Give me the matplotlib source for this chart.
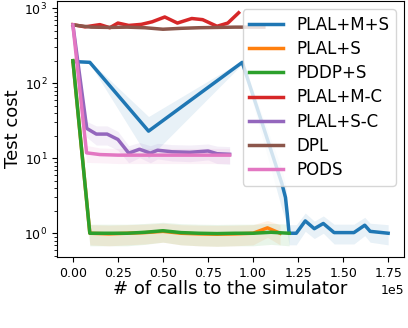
import numpy as np
import matplotlib
matplotlib.use("Agg")
import matplotlib.pyplot as plt

# x in number of simulator calls, y = test cost (mean, std)
x_mps = [0, 9400, 42000, 94000, 116000, 118000, 119000, 120000, 124000, 129000,
         134000, 139000, 145000, 156000, 162000, 165000, 175000]
y_mps = [195, 190, 23, 190, 4.6, 3.0, 1.8, 1.0, 1.0, 1.46,
         1.15, 1.35, 1.02, 1.02, 1.28, 1.06, 1.0]
s_mps = [5, 8, 13, 10, 2.5, 1.5, 0.8, 0.3, 0.3, 0.4,
         0.3, 0.35, 0.3, 0.3, 0.35, 0.3, 0.3]

x_ps = [0, 9400, 20000, 30000, 40000, 50000, 60000, 70000, 80000, 90000,
        100000, 108000, 115000]
y_ps = [200, 1.0, 0.98, 1.0, 1.02, 1.06, 1.0, 0.98, 0.97, 0.98, 1.0, 1.18, 1.0]
s_ps = [3, 0.3, 0.3, 0.3, 0.3, 0.3, 0.3, 0.3, 0.3, 0.3, 0.3, 0.3, 0.3]

x_pddp = [0, 9400, 20000, 30000, 40000, 50000, 60000, 70000, 80000, 90000,
          100000, 110000, 120000]
y_pddp = [200, 1.0, 1.0, 1.0, 1.03, 1.08, 1.02, 1.0, 0.99, 1.0, 1.0, 1.03, 1.0]
s_pddp = [3, 0.32, 0.32, 0.32, 0.32, 0.32, 0.32, 0.32, 0.32, 0.32, 0.32, 0.32, 0.32]

x_mc = [0, 6700, 15000, 20500, 25000, 31000, 38000, 44000, 51000, 58000,
        66000, 72000, 80000, 86000, 92000]
y_mc = [605, 565, 605, 550, 635, 590, 610, 660, 765, 635,
        730, 705, 575, 635, 870]
s_mc = [10, 20, 25, 20, 30, 25, 25, 30, 35, 30, 30, 30, 40, 35, 40]

x_sc = [0, 7700, 13000, 19000, 25000, 31000, 37000, 43000, 47000, 55000,
        65000, 75000, 80000, 87000]
y_sc = [600, 25, 21, 21, 17.8, 11.7, 13.2, 11.7, 12.8, 12.2,
        12.0, 12.5, 11.5, 11.3]
s_sc = [5, 6, 6, 6, 5, 3, 3, 3, 3, 3, 3, 3, 3, 3]

x_dpl = [0, 10000, 20000, 30000, 40000, 50000, 60000, 70000, 80000, 90000,
         100000, 106000]
y_dpl = [600, 560, 555, 560, 550, 525, 540, 550, 555, 560, 560, 560]
s_dpl = [5, 8, 8, 8, 8, 8, 8, 8, 8, 8, 8, 8]

x_pods = [0, 7600, 15000, 25000, 35000, 45000, 55000, 65000, 75000, 87000]
y_pods = [600, 11.8, 11.2, 11.0, 11.0, 11.0, 11.0, 11.0, 11.0, 11.0]
s_pods = [5, 3, 2.5, 2.5, 2.5, 2.5, 2.5, 2.5, 2.5, 2.5]

labels = ["PLAL+M+S", "PLAL+S", "PDDP+S", "PLAL+M-C", "PLAL+S-C", "DPL", "PODS"]
series = [(x_mps, y_mps, s_mps), (x_ps, y_ps, s_ps), (x_pddp, y_pddp, s_pddp),
          (x_mc, y_mc, s_mc), (x_sc, y_sc, s_sc), (x_dpl, y_dpl, s_dpl),
          (x_pods, y_pods, s_pods)]

fig = plt.figure(figsize=(4.08, 3.28), dpi=100)
ax = fig.add_axes([0.14, 0.216, 0.85, 0.781])

for i, (lab, (x, y, s)) in enumerate(zip(labels, series)):
    x = np.array(x)
    y = np.array(y)
    s = np.array(s)
    ax.plot(x, y, color=f"C{i}", lw=2.5, label=lab)
    ax.fill_between(x, np.maximum(y - s, 0.3), y + s, color=f"C{i}", alpha=0.1, lw=0)

ax.set_yscale("log")
ax.set_ylim(0.48, 1250)
ax.set_xlim(-8750, 183750)
ax.set_xticks(np.arange(0, 175001, 25000))
ax.ticklabel_format(axis="x", style="sci", scilimits=(0, 0))
ax.tick_params(labelsize=9)
ax.xaxis.get_offset_text().set_fontsize(9)
ax.set_xlabel("# of calls to the simulator", fontsize=13, labelpad=0)
ax.set_ylabel("Test cost", fontsize=13, labelpad=2)
ax.legend(loc="upper right", fontsize=12, labelspacing=0.37)

fig.savefig("out.png", dpi=100)
